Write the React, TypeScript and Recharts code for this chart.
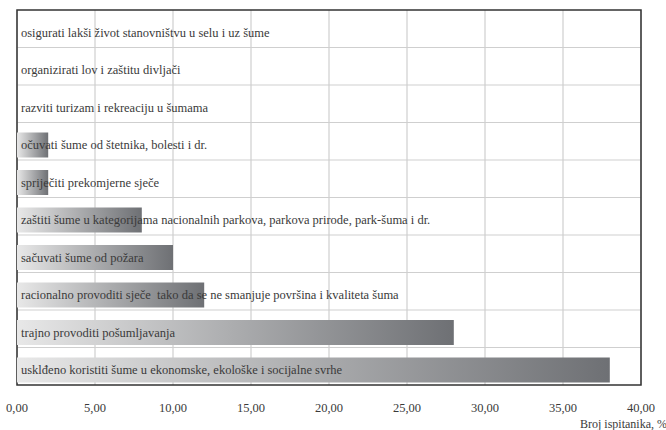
import React from 'react';
import { Bar, BarChart, CartesianGrid, LabelList, ReferenceArea, XAxis, YAxis } from 'recharts';

const categories = [
  'osigurati lakši život stanovništvu u selu i uz šume',
  'organizirati lov i zaštitu divljači',
  'razviti turizam i rekreaciju u šumama',
  'očuvati šume od štetnika, bolesti i dr.',
  'spriječiti prekomjerne sječe',
  'zaštiti šume u kategorijama nacionalnih parkova, parkova prirode, park-šuma i dr.',
  'sačuvati šume od požara',
  'racionalno provoditi sječe  tako da se ne smanjuje površina i kvaliteta šuma',
  'trajno provoditi pošumljavanja',
  'usklđeno koristiti šume u ekonomske, ekološke i socijalne svrhe',
];

const percentages = [0, 0, 0, 2, 2, 8, 10, 12, 28, 38];

const xTicks = [0, 5, 10, 15, 20, 25, 30, 35, 40];

const axisTitle = 'Broj ispitanika, %';

const chartData = categories.map((name, i) => ({ name, value: percentages[i] }));

const FONT = "'Liberation Serif', 'DejaVu Serif', serif";
const SHIFT = 4;

const BarShape = (props: any) => {
  const { x, y, width, height } = props;
  if (!width || width <= 0) return null;
  return <rect x={x} y={y + SHIFT} width={width} height={height} fill="url(#barGrad)" />;
};

const BarLabel = (props: any) => {
  const { x, y, height, value } = props;
  return (
    <text
      x={Number(x) + 4}
      y={Number(y) + Number(height) / 2 + SHIFT}
      dominantBaseline="central"
      style={{ fontFamily: FONT, fontSize: 12.5 }}
      fill="#3a3a3a"
      xmlSpace="preserve"
    >
      {value}
    </text>
  );
};

export default function App() {
  const rowLines = ({ offset }: any) => {
    const n = categories.length;
    const lines: number[] = [];
    for (let i = 1; i < n; i++) lines.push(offset.top + (offset.height * i) / n);
    return lines;
  };

  return (
    <div style={{ position: 'absolute', left: 0, top: 0, width: 666, height: 430, background: '#fff', fontFamily: FONT }}>
      <BarChart
        width={666}
        height={430}
        data={chartData}
        layout="vertical"
        margin={{ top: 10, right: 25, bottom: 15, left: 17 }}
        barCategoryGap={0}
        barSize={25}
        style={{ fontFamily: FONT }}
      >
        <defs>
          <linearGradient id="barGrad" x1="0" y1="0" x2="1" y2="0">
            <stop offset="0%" stopColor="#e8e8e8" />
            <stop offset="100%" stopColor="#6e7074" />
          </linearGradient>
        </defs>
        <CartesianGrid
          stroke="#cfcfcf"
          strokeWidth={1.2}
          horizontalCoordinatesGenerator={rowLines}
        />
        <XAxis
          type="number"
          domain={[0, 40]}
          ticks={xTicks}
          interval={0}
          tickFormatter={(v: number) => v.toFixed(2).replace('.', ',')}
          tickLine={false}
          axisLine={false}
          tickSize={0}
          tickMargin={18}
          height={30}
          tick={{ style: { fontFamily: FONT, fontSize: 12.5 }, fill: '#3a3a3a' }}
          label={{
            content: (p: any) => {
              const vb = p.viewBox || {};
              return (
                <text
                  x={vb.x + vb.width - 61}
                  y={vb.y + vb.height + 12.5}
                  style={{ fontFamily: FONT, fontSize: 12 }}
                  fill="#3a3a3a"
                >
                  {axisTitle}
                </text>
              );
            },
          }}
        />
        <YAxis type="category" dataKey="name" hide width={0} />
        <ReferenceArea x1={0} x2={40} fill="none" stroke="#333" strokeWidth={1.5} fillOpacity={0} />
        <Bar dataKey="value" shape={BarShape} isAnimationActive={false}>
          <LabelList dataKey="name" content={BarLabel} />
        </Bar>
      </BarChart>
    </div>
  );
}
